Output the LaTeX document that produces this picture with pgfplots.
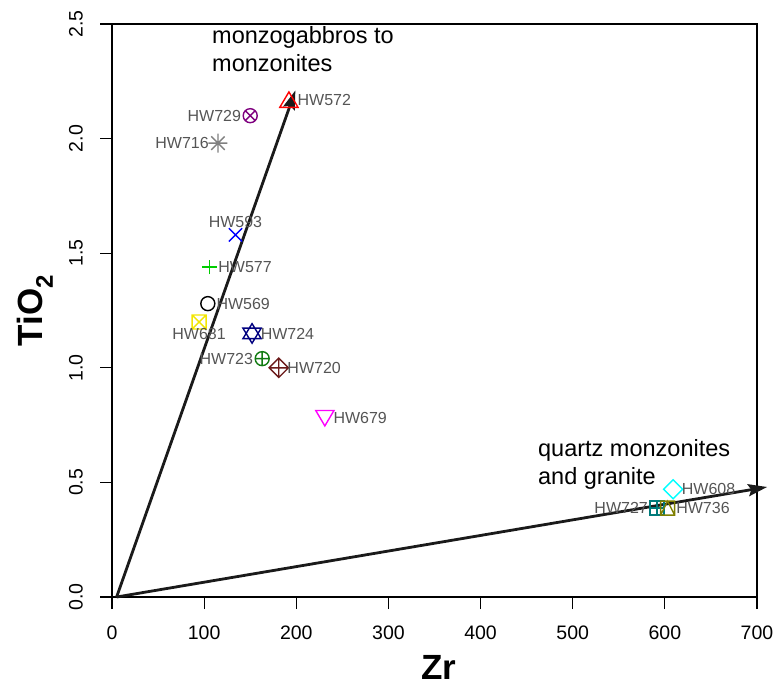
\documentclass[border=0pt]{standalone}
\usepackage{pgfplots}
\pgfplotsset{compat=1.18}
\usepackage{fontspec}
\setmainfont{Liberation Sans}
\usetikzlibrary{arrows.meta}

\definecolor{cBlack}{HTML}{000000}
\definecolor{cRed}{HTML}{FF0000}
\definecolor{cGreen}{HTML}{00CD00}
\definecolor{cBlue}{HTML}{0000FF}
\definecolor{cCyan}{HTML}{00FFFF}
\definecolor{cMagenta}{HTML}{FF00FF}
\definecolor{cYellow}{HTML}{F2E600}
\definecolor{cGray}{HTML}{808080}
\definecolor{cBrown}{HTML}{6B1A1A}
\definecolor{cDGreen}{HTML}{117A11}
\definecolor{cNavy}{HTML}{00007F}
\definecolor{cTeal}{HTML}{007B7B}
\definecolor{cPurple}{HTML}{7F007F}
\definecolor{cOlive}{HTML}{7F7F00}
\definecolor{lblgray}{HTML}{555555}
\definecolor{arrowc}{HTML}{1A1A1A}

\newcommand{\s}{\pgfplotmarksize}
\pgfdeclareplotmark{rcirc}{\pgfpathcircle{\pgfpointorigin}{\s}\pgfusepathqstroke}
\pgfdeclareplotmark{rtri}{%
  \pgfpathmoveto{\pgfpoint{0pt}{1.1\s}}\pgfpathlineto{\pgfpoint{1.3\s}{-1.1\s}}%
  \pgfpathlineto{\pgfpoint{-1.3\s}{-1.1\s}}\pgfpathclose\pgfusepathqstroke}
\pgfdeclareplotmark{rtridown}{%
  \pgfpathmoveto{\pgfpoint{0pt}{-1.1\s}}\pgfpathlineto{\pgfpoint{1.3\s}{1.1\s}}%
  \pgfpathlineto{\pgfpoint{-1.3\s}{1.1\s}}\pgfpathclose\pgfusepathqstroke}
\pgfdeclareplotmark{rplus}{%
  \pgfpathmoveto{\pgfpoint{-1.05\s}{0pt}}\pgfpathlineto{\pgfpoint{1.05\s}{0pt}}%
  \pgfpathmoveto{\pgfpoint{0pt}{-1.05\s}}\pgfpathlineto{\pgfpoint{0pt}{1.05\s}}\pgfusepathqstroke}
\pgfdeclareplotmark{rx}{%
  \pgfpathmoveto{\pgfpoint{-0.95\s}{-0.95\s}}\pgfpathlineto{\pgfpoint{0.95\s}{0.95\s}}%
  \pgfpathmoveto{\pgfpoint{-0.95\s}{0.95\s}}\pgfpathlineto{\pgfpoint{0.95\s}{-0.95\s}}\pgfusepathqstroke}
\pgfdeclareplotmark{rdiam}{%
  \pgfpathmoveto{\pgfpoint{1.36\s}{0pt}}\pgfpathlineto{\pgfpoint{0pt}{1.36\s}}%
  \pgfpathlineto{\pgfpoint{-1.36\s}{0pt}}\pgfpathlineto{\pgfpoint{0pt}{-1.36\s}}\pgfpathclose\pgfusepathqstroke}
\pgfdeclareplotmark{sqx}{%
  \pgfpathrectangle{\pgfpoint{-\s}{-\s}}{\pgfpoint{2\s}{2\s}}%
  \pgfpathmoveto{\pgfpoint{-\s}{-\s}}\pgfpathlineto{\pgfpoint{\s}{\s}}%
  \pgfpathmoveto{\pgfpoint{-\s}{\s}}\pgfpathlineto{\pgfpoint{\s}{-\s}}\pgfusepathqstroke}
\pgfdeclareplotmark{rast}{%
  \pgfpathmoveto{\pgfpoint{-1.36\s}{0pt}}\pgfpathlineto{\pgfpoint{1.36\s}{0pt}}%
  \pgfpathmoveto{\pgfpoint{0pt}{-1.36\s}}\pgfpathlineto{\pgfpoint{0pt}{1.36\s}}%
  \pgfpathmoveto{\pgfpoint{-0.96\s}{-0.96\s}}\pgfpathlineto{\pgfpoint{0.96\s}{0.96\s}}%
  \pgfpathmoveto{\pgfpoint{-0.96\s}{0.96\s}}\pgfpathlineto{\pgfpoint{0.96\s}{-0.96\s}}\pgfusepathqstroke}
\pgfdeclareplotmark{dplus}{%
  \pgfpathmoveto{\pgfpoint{1.38\s}{0pt}}\pgfpathlineto{\pgfpoint{0pt}{1.38\s}}%
  \pgfpathlineto{\pgfpoint{-1.38\s}{0pt}}\pgfpathlineto{\pgfpoint{0pt}{-1.38\s}}\pgfpathclose
  \pgfpathmoveto{\pgfpoint{-1.38\s}{0pt}}\pgfpathlineto{\pgfpoint{1.38\s}{0pt}}%
  \pgfpathmoveto{\pgfpoint{0pt}{-1.38\s}}\pgfpathlineto{\pgfpoint{0pt}{1.38\s}}\pgfusepathqstroke}
\pgfdeclareplotmark{cplus}{%
  \pgfpathcircle{\pgfpointorigin}{\s}%
  \pgfpathmoveto{\pgfpoint{-\s}{0pt}}\pgfpathlineto{\pgfpoint{\s}{0pt}}%
  \pgfpathmoveto{\pgfpoint{0pt}{-\s}}\pgfpathlineto{\pgfpoint{0pt}{\s}}\pgfusepathqstroke}
\pgfdeclareplotmark{david}{%
  \pgfpathmoveto{\pgfpoint{0pt}{1.4\s}}\pgfpathlineto{\pgfpoint{1.3\s}{-0.75\s}}%
  \pgfpathlineto{\pgfpoint{-1.3\s}{-0.75\s}}\pgfpathclose
  \pgfpathmoveto{\pgfpoint{0pt}{-1.4\s}}\pgfpathlineto{\pgfpoint{1.3\s}{0.75\s}}%
  \pgfpathlineto{\pgfpoint{-1.3\s}{0.75\s}}\pgfpathclose\pgfusepathqstroke}
\pgfdeclareplotmark{sqplus}{%
  \pgfpathrectangle{\pgfpoint{-\s}{-\s}}{\pgfpoint{2\s}{2\s}}%
  \pgfpathmoveto{\pgfpoint{-\s}{0pt}}\pgfpathlineto{\pgfpoint{\s}{0pt}}%
  \pgfpathmoveto{\pgfpoint{0pt}{-\s}}\pgfpathlineto{\pgfpoint{0pt}{\s}}\pgfusepathqstroke}
\pgfdeclareplotmark{cx}{%
  \pgfpathcircle{\pgfpointorigin}{\s}%
  \pgfpathmoveto{\pgfpoint{-0.707\s}{-0.707\s}}\pgfpathlineto{\pgfpoint{0.707\s}{0.707\s}}%
  \pgfpathmoveto{\pgfpoint{-0.707\s}{0.707\s}}\pgfpathlineto{\pgfpoint{0.707\s}{-0.707\s}}\pgfusepathqstroke}
\pgfdeclareplotmark{sqtri}{%
  \pgfpathrectangle{\pgfpoint{-\s}{-\s}}{\pgfpoint{2\s}{2\s}}%
  \pgfpathmoveto{\pgfpoint{-\s}{-\s}}\pgfpathlineto{\pgfpoint{0pt}{\s}}%
  \pgfpathlineto{\pgfpoint{\s}{-\s}}\pgfusepathqstroke}

\newcommand{\lblfont}{\fontsize{16}{19}\selectfont}
\newcommand{\annfont}{\fontsize{23.5}{28}\selectfont}

\tikzset{
  lR/.style={anchor=west, xshift=8pt},
  lL/.style={anchor=east, xshift=-8.5pt},
  lA/.style={anchor=south, yshift=7pt},
  lB/.style={anchor=north, yshift=-6pt},
}
% #1 mark, #2 color, #3 label, #4 label placement, #5 point
\newcommand{\pt}[5]{%
  \addplot[only marks, mark=#1, color=#2, mark size=7pt,
    mark options={line width=1.4pt, solid},
    nodes near coords={#3},
    nodes near coords style={#4, inner sep=0pt, text=lblgray, font=\lblfont}]
    coordinates {#5};}

\begin{document}
\begin{tikzpicture}
\begin{axis}[
  at={(0pt,0pt)}, anchor=south west,
  scale only axis, width=645pt, height=573pt,
  xmin=0, xmax=700, ymin=0, ymax=2.5,
  clip=false,
  axis line style={black, line width=1.2pt},
  xtick={0,100,...,700},
  ytick={0,0.5,1,1.5,2,2.5},
  tick align=outside, major tick length=12pt,
  tick style={black, line width=1.2pt},
  xtick pos=bottom, ytick pos=left,
  /pgf/number format/assume math mode=true,
  ticklabel style={font=\fontsize{19.5}{23}\selectfont, inner sep=0pt},
  yticklabel style={rotate=90, anchor=south, /pgf/number format/.cd, fixed, fixed zerofill, precision=1},
  xticklabel style={anchor=north},
  xticklabel shift=17pt,
  yticklabel shift=17pt,
  xlabel={\bfseries Zr},
  ylabel={\bfseries TiO\raisebox{-0.28em}{\fontsize{24}{24}\selectfont 2}},
  xlabel style={font=\fontsize{35}{40}\selectfont, at={(axis description cs:0.507,-0.1445)}, anchor=base},
  ylabel style={font=\fontsize{35}{40}\selectfont, at={(axis description cs:-0.107,0.5)}, anchor=base},
]
% arrows
\addplot[arrowc, line width=2.8pt, -{Stealth[length=19pt, width=12pt, inset=3pt]}] coordinates {(5,0) (199,2.21)};
\addplot[arrowc, line width=2.8pt, -{Stealth[length=19pt, width=12pt, inset=3pt]}] coordinates {(5,0) (711,0.48)};

\pt{rcirc}{cBlack}{HW569}{lR}{(104,1.28)}
\pt{rtri}{cRed}{HW572}{lR}{(192,2.17)}
\pt{rplus}{cGreen}{HW577}{lR}{(106,1.44)}
\pt{rx}{cBlue}{HW593}{lA}{(134,1.58)}
\pt{rdiam}{cCyan}{HW608}{lR}{(609,0.47)}
\pt{rtridown}{cMagenta}{HW679}{lR}{(231,0.78)}
\pt{sqx}{cYellow}{HW681}{lB}{(94.5,1.20)}
\pt{rast}{cGray}{HW716}{lL}{(115,1.98)}
\pt{dplus}{cBrown}{HW720}{lR}{(181,1.00)}
\pt{cplus}{cDGreen}{HW723}{lL}{(163,1.04)}
\pt{david}{cNavy}{HW724}{lR}{(152,1.15)}
\pt{sqplus}{cTeal}{HW727}{lL}{(591.5,0.388)}
\pt{cx}{cPurple}{HW729}{lL}{(150,2.10)}
\pt{sqtri}{cOlive}{HW736}{lR}{(603,0.388)}

\node[anchor=base west, font=\annfont, inner sep=0pt] at (axis cs:108.5,2.417) {monzogabbros to};
\node[anchor=base west, font=\annfont, inner sep=0pt] at (axis cs:108.5,2.291) {monzonites};
\node[anchor=base west, font=\annfont, inner sep=0pt] at (axis cs:462.3,0.615) {quartz monzonites};
\node[anchor=base west, font=\annfont, inner sep=0pt] at (axis cs:462.3,0.493) {and granite};
\end{axis}
\pgfresetboundingbox
\path[use as bounding box] (-112pt,-89pt) rectangle (664pt,597pt);
\end{tikzpicture}
\end{document}
